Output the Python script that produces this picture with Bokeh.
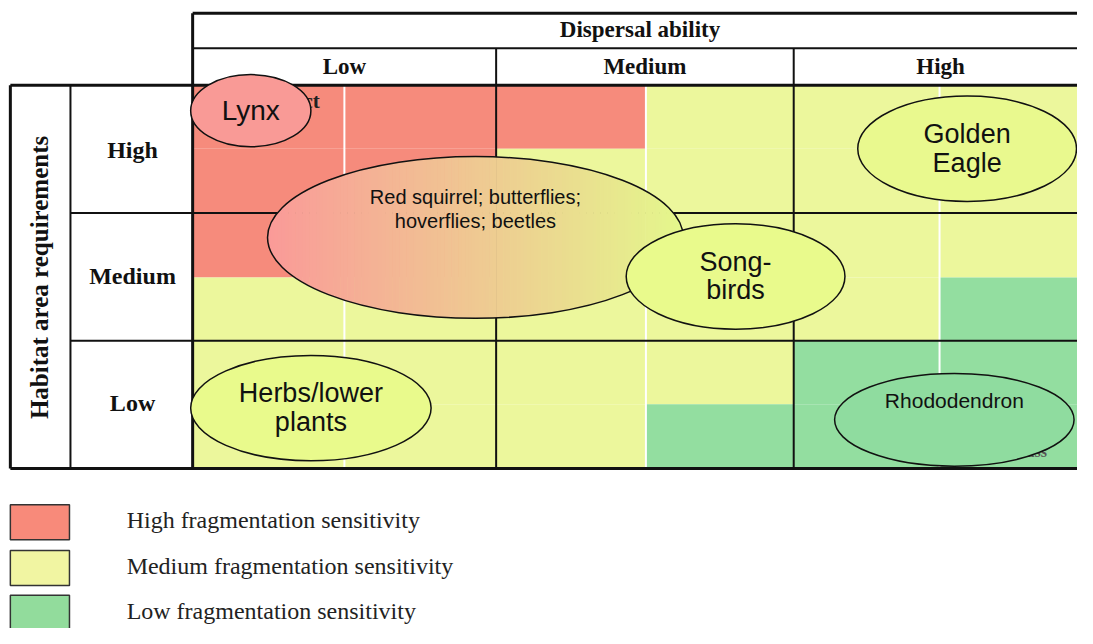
import numpy as np
from bokeh.plotting import figure
from bokeh.models import Range1d
from bokeh.core.properties import value
from bokeh.embed import file_html
from bokeh.resources import INLINE

# ---------------- data ----------------
dispersal_title = "Dispersal ability"
dispersal_levels = ["Low", "Medium", "High"]
habitat_title = "Habitat area requirements"
habitat_levels = ["High", "Medium", "Low"]

# sensitivity of each half-cell: rows top->bottom (6 half rows), cols left->right (6 half cols)
sensitivity_grid = [
    ["H", "H", "H", "M", "M", "M"],
    ["H", "H", "M", "M", "M", "M"],
    ["H", "H", "M", "M", "M", "M"],
    ["M", "M", "M", "M", "M", "L"],
    ["M", "M", "M", "M", "L", "L"],
    ["M", "M", "M", "L", "L", "L"],
]
legend_codes = ["H", "M", "L"]
legend_labels = ["High fragmentation sensitivity",
                 "Medium fragmentation sensitivity",
                 "Low fragmentation sensitivity"]
colors = {"H": "#f68b7c", "M": "#ecf79c", "L": "#93dea0"}
legend_colors = {"H": "#f88a7a", "M": "#f1f5a2", "L": "#92dc9c"}

# species bubbles: label lines, center, size, fill
species_lines = [["Lynx"], ["Golden", "Eagle"], ["Song-", "birds"],
                 ["Herbs/lower", "plants"], ["Rhododendron"]]
species_cx = [254, 981, 746, 315, 968]
species_cy = [113, 152, 283, 418, 430]
species_w = [122, 222, 222, 244, 243]
species_h = [74, 108, 108, 108, 95]
species_fill = ["#f99a96", "#e9f98e", "#e9fa8c", "#e9fa8c", "#8fdc9f"]
species_font = [28, 27, 27, 27, 21]
species_text_dy = [[0], [-15, 15], [-15, 14], [-15, 14], [-20]]

multi_lines = ["Red squirrel; butterflies;", "hoverflies; beetles"]
multi_cx, multi_cy, multi_w, multi_h = 482, 243, 422, 166
grad_left, grad_right = (250, 154, 152), (228, 247, 140)

# ---------------- layout ----------------
W, H = 1077, 628
p = figure(width=W, height=H, x_range=Range1d(0, 1093), y_range=Range1d(644, 0),
           output_backend="svg", toolbar_location=None, min_border=0)
p.axis.visible = False
p.grid.visible = False
p.outline_line_color = None
p.background_fill_color = "white"

serif = value("Liberation Serif")
sans = value("Liberation Sans")

grid_x = [195, 349, 503, 655, 805, 953, 1093]
grid_y = [87, 152, 218, 284, 349, 414, 480]

left, right, top, bottom, fill = [], [], [], [], []
for r, row in enumerate(sensitivity_grid):
    for c, code in enumerate(row):
        left.append(grid_x[c]); right.append(grid_x[c + 1])
        top.append(grid_y[r]); bottom.append(grid_y[r + 1])
        fill.append(colors[code])
p.quad(left=left, right=right, top=top, bottom=bottom, fill_color=fill, line_color=None)

# white half-column separators
for x in [grid_x[1], grid_x[3], grid_x[5]]:
    p.segment(x0=x, y0=grid_y[0], x1=x, y1=grid_y[-1] + 8, line_color="white", line_width=2)

# hidden labels underneath bubbles
p.text(x=[324], y=[103], text=["Insect"], text_align="right", text_baseline="middle",
       text_font=serif, text_font_style="bold", text_font_size="21px", text_color="#222222")
p.text(x=[1062], y=[463], text=["Grass"], text_align="right", text_baseline="middle",
       text_font=serif, text_font_style="bold", text_font_size="16px", text_color="#555555")

# black lines
blk = "#111111"
hlines = [(13, 195, 1093, 3), (49, 195, 1093, 2), (87, 10, 1093, 3),
          (218, 71, 1093, 2), (349, 71, 1093, 2), (480, 10, 1093, 3)]
for y, x0, x1, lw in hlines:
    p.segment(x0=x0, y0=y, x1=x1, y1=y, line_color=blk, line_width=lw)
vlines = [(10, 87, 480, 3), (71, 87, 480, 2), (195, 13, 480, 3),
          (503, 49, 480, 2), (805, 49, 480, 2)]
for x, y0, y1, lw in vlines:
    p.segment(x0=x, y0=y0, x1=x, y1=y1, line_color=blk, line_width=lw)

# header texts
p.text(x=[649], y=[30], text=[dispersal_title], text_align="center", text_baseline="middle",
       text_font=serif, text_font_style="bold", text_font_size="23px", text_color=blk)
col_centers = [349, 654, 954]
p.text(x=col_centers, y=[68] * 3, text=dispersal_levels, text_align="center",
       text_baseline="middle", text_font=serif, text_font_style="bold",
       text_font_size="23px", text_color=blk)
row_centers = [153, 283, 413]
p.text(x=[134] * 3, y=row_centers, text=habitat_levels, text_align="center",
       text_baseline="middle", text_font=serif, text_font_style="bold",
       text_font_size="24px", text_color=blk)
p.text(x=[40], y=[284], text=[habitat_title], angle=np.pi / 2, text_align="center",
       text_baseline="middle", text_font=serif, text_font_style="bold",
       text_font_size="25px", text_color=blk)

# gradient bubble (vertical strips)
N = 120
a, b = multi_w / 2, multi_h / 2
xs_e = np.linspace(multi_cx - a, multi_cx + a, N + 1)
hh = b * np.sqrt(np.clip(1 - ((xs_e - multi_cx) / a) ** 2, 0, 1))
sx, sy, sc = [], [], []
for i in range(N):
    x0, x1 = xs_e[i], xs_e[i + 1] + 0.6
    h0, h1 = hh[i], b * np.sqrt(max(0.0, 1 - ((min(x1, multi_cx + a) - multi_cx) / a) ** 2))
    sx.append([x0, x1, x1, x0])
    sy.append([multi_cy - h0, multi_cy - h1, multi_cy + h1, multi_cy + h0])
    t = (i + 0.5) / N
    rgb = [int(round(grad_left[k] + (grad_right[k] - grad_left[k]) * t)) for k in range(3)]
    sc.append("#%02x%02x%02x" % tuple(rgb))
p.patches(xs=sx, ys=sy, fill_color=sc, line_color=None)
p.ellipse(x=[multi_cx], y=[multi_cy], width=[multi_w], height=[multi_h],
          fill_alpha=0, line_color=blk, line_width=1.5)
p.text(x=[multi_cx] * 2, y=[multi_cy - 42, multi_cy - 17], text=multi_lines,
       text_align="center", text_baseline="middle", text_font=sans,
       text_font_size="20px", text_color=blk)

# species bubbles (songbirds drawn after the gradient bubble)
p.ellipse(x=species_cx, y=species_cy, width=species_w, height=species_h,
          fill_color=species_fill, line_color=blk, line_width=1.5)
for lines, cx, cy, fs, dys in zip(species_lines, species_cx, species_cy, species_font, species_text_dy):
    p.text(x=[cx] * len(lines), y=[cy + d for d in dys], text=lines, text_align="center",
           text_baseline="middle", text_font=sans, text_font_size=f"{fs}px", text_color=blk)

# legend
ly = [535, 582, 628]
p.quad(left=[10] * 3, right=[70] * 3, top=[y - 18 for y in ly], bottom=[y + 18 for y in ly],
       fill_color=[legend_colors[c] for c in legend_codes], line_color="#333333", line_width=1.5)
p.text(x=[128] * 3, y=[y - 2 for y in ly], text=legend_labels, text_align="left",
       text_baseline="middle", text_font=serif, text_font_size="24px", text_color="#222222")

open("out.html", "w").write(file_html(p, INLINE))
